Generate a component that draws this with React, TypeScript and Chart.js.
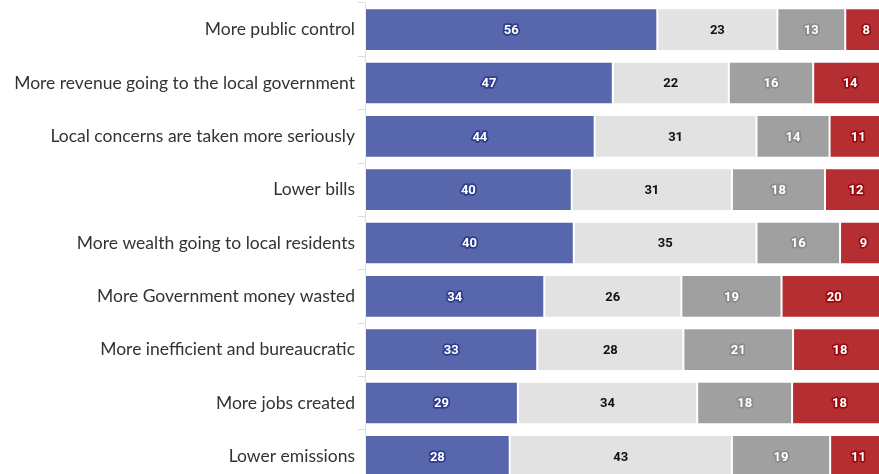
import React, { useEffect, useRef } from "react";
import { Chart, registerables } from "chart.js";

Chart.register(...registerables);

const categories = [
  "More public control",
  "More revenue going to the local government",
  "Local concerns are taken more seriously",
  "Lower bills",
  "More wealth going to local residents",
  "More Government money wasted",
  "More inefficient and bureaucratic",
  "More jobs created",
  "Lower emissions",
];

const seriesNames = ["Series A", "Series B", "Series C", "Series D"];
const seriesA = [56, 47, 44, 40, 40, 34, 33, 29, 28];
const seriesB = [23, 22, 31, 31, 35, 26, 28, 34, 43];
const seriesC = [13, 16, 14, 18, 16, 19, 21, 18, 19];
const seriesD = [8, 14, 11, 12, 9, 20, 18, 18, 11];

const fillColors = ["#5866ac", "#e2e2e2", "#a0a0a0", "#b52f32"];
const textColors = ["#ffffff", "#111111", "#ffffff", "#ffffff"];
const strokeColors = ["#2f3d8f", "#e2e2e2", "#8a8a8a", "#9a0a0e"];

const allSeries = [seriesA, seriesB, seriesC, seriesD];
const totals = categories.map((_, i) => allSeries.reduce((s, arr) => s + arr[i], 0));

const valueLabels = {
  id: "valueLabels",
  afterDatasetsDraw(chart: any) {
    const ctx = chart.ctx;
    chart.data.datasets.forEach((ds: any, i: number) => {
      const meta = chart.getDatasetMeta(i);
      meta.data.forEach((bar: any, j: number) => {
        const { x, y, base } = bar.getProps(["x", "y", "base"], true);
        const cx = (x + base) / 2;
        const txt = String(allSeries[i][j]);
        ctx.save();
        ctx.font = "bold 13px Roboto, 'DejaVu Sans', sans-serif";
        ctx.textAlign = "center";
        ctx.textBaseline = "middle";
        ctx.lineJoin = "round";
        ctx.lineWidth = 3.5;
        ctx.strokeStyle = strokeColors[i];
        ctx.strokeText(txt, cx, y + 1);
        ctx.fillStyle = textColors[i];
        ctx.fillText(txt, cx, y + 1);
        ctx.restore();
      });
    });
  },
};

export default function App() {
  const ref = useRef<HTMLCanvasElement>(null);
  useEffect(() => {
    if (!ref.current) return;
    const chart = new Chart(ref.current, {
      type: "bar",
      data: {
        labels: categories,
        datasets: allSeries.map((arr, i) => ({
          label: seriesNames[i],
          data: arr.map((v, j) => (v / totals[j]) * 100),
          backgroundColor: fillColors[i],
          borderColor: "rgba(255,255,255,0.55)",
          borderWidth: 1,
          borderSkipped: false,
          categoryPercentage: 1,
          barPercentage: 0.8,
        })),
      },
      options: {
        indexAxis: "y",
        responsive: false,
        animation: false,
        layout: { padding: { top: 3, bottom: 7, left: 0, right: 3 } },
        plugins: { legend: { display: false }, tooltip: { enabled: false } },
        scales: {
          x: { stacked: true, min: 0, max: 100, display: false },
          y: {
            stacked: true,
            afterFit: (scale: any) => {
              scale.width = 365;
              scale.paddingTop = 0;
              scale.paddingBottom = 0;
            },
            grid: {
              display: true,
              drawOnChartArea: false,
              drawTicks: true,
              tickLength: 7,
              color: "#dddddd",
            },
            border: { display: true, color: "#dddddd" },
            ticks: {
              padding: 3,
              color: "#333333",
              font: { family: "Lato, 'Noto Sans', sans-serif", size: 17.5 },
            },
          },
        },
      },
      plugins: [valueLabels],
    });
    return () => chart.destroy();
  }, []);
  return (
    <div style={{ position: "absolute", left: 0, top: 0, width: 879, height: 474, overflow: "hidden", background: "#fff" }}>
      <canvas ref={ref} width={890} height={490} style={{ display: "block" }} />
    </div>
  );
}
